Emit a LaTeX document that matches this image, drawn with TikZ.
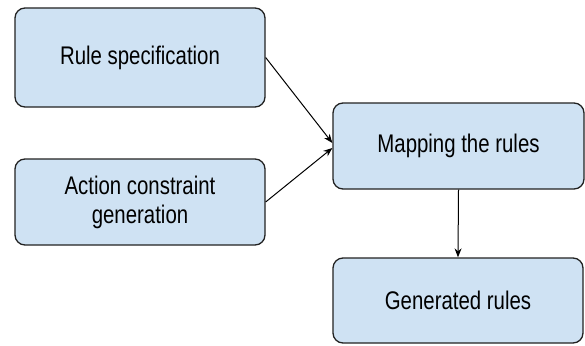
\documentclass[tikz,border=0pt]{standalone}
\usepackage{fontspec}
\usepackage{graphicx}
\setmainfont{Liberation Sans}
\usetikzlibrary{arrows.meta,calc}
\definecolor{boxfill}{HTML}{CFE2F3}
\definecolor{boxline}{HTML}{222222}
% tall, narrow lettering
\newcommand{\narrowtext}[1]{\scalebox{0.8}[1]{#1}}
\tikzset{
  stepbox/.style={draw=boxline, line width=1.3pt, fill=boxfill,
    rounded corners=10pt, minimum width=250pt, align=center,
    font=\fontsize{25.5}{29}\selectfont, inner sep=0pt},
  flow/.style={draw=black, line width=1pt, -{Stealth[length=9pt,width=7pt]}}
}
\begin{document}
\begin{tikzpicture}[x=1pt,y=-1pt]
  \useasboundingbox (0,0) rectangle (585,345);
  \node[stepbox, minimum height=99pt] (spec) at (140,57.5) {\narrowtext{Rule specification}};
  \node[stepbox, minimum height=86pt] (cons) at (140,202) {\narrowtext{Action constraint}\\\narrowtext{generation}};
  \node[stepbox, minimum height=86pt, minimum width=251pt] (map) at (458.5,146) {\narrowtext{Mapping the rules}};
  \node[stepbox, minimum height=85pt] (gen) at (458,300.5) {\narrowtext{Generated rules}};
  \draw[flow] (spec.east) -- ($(map.west)+(0,-3)$);
  \draw[flow] (cons.east) -- ($(map.west)+(0,2)$);
  \draw[flow] (map.south) -- (gen.north);
\end{tikzpicture}
\end{document}
